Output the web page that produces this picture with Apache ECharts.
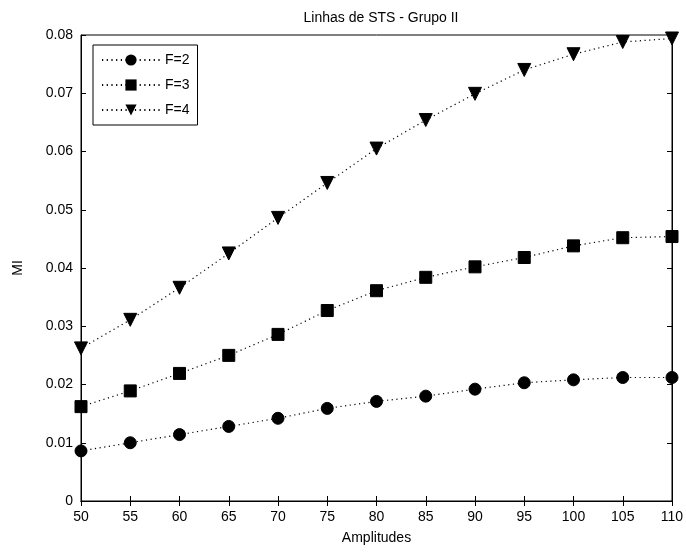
<!DOCTYPE html>
<html>
<head>
<meta charset="utf-8">
<script src="https://cdn.jsdelivr.net/npm/echarts@6/dist/echarts.min.js"></script>
<style>
html,body{margin:0;padding:0;background:#fff;}
#main{width:686px;height:555px;}
</style>
</head>
<body>
<div id="main"></div>
<script>
var amplitudes = [50, 55, 60, 65, 70, 75, 80, 85, 90, 95, 100, 105, 110];
var f2 = [0.0086, 0.0100, 0.0114, 0.0128, 0.0142, 0.0159, 0.0171, 0.0180, 0.0192, 0.0203, 0.0208, 0.0212, 0.0212];
var f3 = [0.0162, 0.0189, 0.0219, 0.0250, 0.0286, 0.0327, 0.0361, 0.0384, 0.0402, 0.0418, 0.0438, 0.0452, 0.0454];
var f4 = [0.0262, 0.0311, 0.0366, 0.0425, 0.0486, 0.0546, 0.0605, 0.0654, 0.0699, 0.0740, 0.0767, 0.0788, 0.0794];
var seriesNames = ['F=2', 'F=3', 'F=4'];

function pairs(ys){ return amplitudes.map(function(x,i){ return [x, ys[i]]; }); }

var font = 'Liberation Sans, Arial, sans-serif';
var chart = echarts.init(document.getElementById('main'), null, {renderer:'canvas'});

function mkSeries(name, ys, symbol, size, rotate){
  return {
    name: name, type: 'line', data: pairs(ys),
    symbol: symbol, symbolSize: size, symbolRotate: rotate || 0,
    showAllSymbol: true,
    itemStyle: {color: '#000', borderColor:'#000'},
    lineStyle: {color: '#000', width: 1.2, type: [1.2, 3.5]},
    emphasis: {disabled: true},
    animation: false
  };
}

var axisLineStyle = {lineStyle:{color:'#000', width:1}};
chart.setOption({
  backgroundColor: '#fff',
  animation: false,
  title: {
    text: 'Linhas de STS - Grupo II', left: 376, top: 6, textAlign: 'center',
    textStyle: {fontFamily: font, fontSize: 14, fontWeight: 'normal', color: '#000'}
  },
  legend: {
    left: 93, top: 45, orient: 'vertical',
    data: seriesNames,
    itemWidth: 58, itemHeight: 14, itemGap: 11,
    padding: [8, 8, 8, 8],
    borderColor: '#000', borderWidth: 1, backgroundColor: '#fff',
    textStyle: {fontFamily: font, fontSize: 14, color: '#000'},
    selectedMode: false
  },
  grid: {left: 81, right: 14, top: 35, bottom: 54, containLabel: false, outerBoundsMode: 'none',
         show: true, borderColor: '#000', borderWidth: 1, backgroundColor:'#fff'},
  xAxis: [{
    type: 'value', min: 50, max: 110, interval: 5,
    name: 'Amplitudes', nameLocation: 'middle', nameGap: 30,
    nameTextStyle: {fontFamily: font, fontSize: 14, color: '#000'},
    axisLine: axisLineStyle,
    axisTick: {inside: true, length: 5, lineStyle:{color:'#000'}},
    axisLabel: {fontFamily: font, fontSize: 14, color: '#000', margin: 9},
    splitLine: {show: false}
  },{
    type: 'value', min: 50, max: 110, interval: 5, position: 'top',
    axisLine: axisLineStyle,
    axisTick: {inside: true, length: 5, lineStyle:{color:'#000'}},
    axisLabel: {show: false}, splitLine: {show:false}
  }],
  yAxis: [{
    type: 'value', min: 0, max: 0.08, interval: 0.01,
    name: 'MI', nameLocation: 'middle', nameGap: 56,
    nameTextStyle: {fontFamily: font, fontSize: 14, color: '#000'},
    axisLine: {show: true, lineStyle:{color:'#000', width:1}},
    axisTick: {show: true, inside: true, length: 5, lineStyle:{color:'#000'}},
    axisLabel: {fontFamily: font, fontSize: 14, color: '#000', margin: 8},
    splitLine: {show: false}
  },{
    type: 'value', min: 0, max: 0.08, interval: 0.01, position: 'right',
    axisLine: {show: true, lineStyle:{color:'#000', width:1}},
    axisTick: {show: true, inside: true, length: 5, lineStyle:{color:'#000'}},
    axisLabel: {show: false}, splitLine: {show:false}
  }],
  series: [
    mkSeries(seriesNames[0], f2, 'circle', 12),
    mkSeries(seriesNames[1], f3, 'rect', 12),
    mkSeries(seriesNames[2], f4, 'triangle', 13, 180)
  ]
});
</script>
</body>
</html>
